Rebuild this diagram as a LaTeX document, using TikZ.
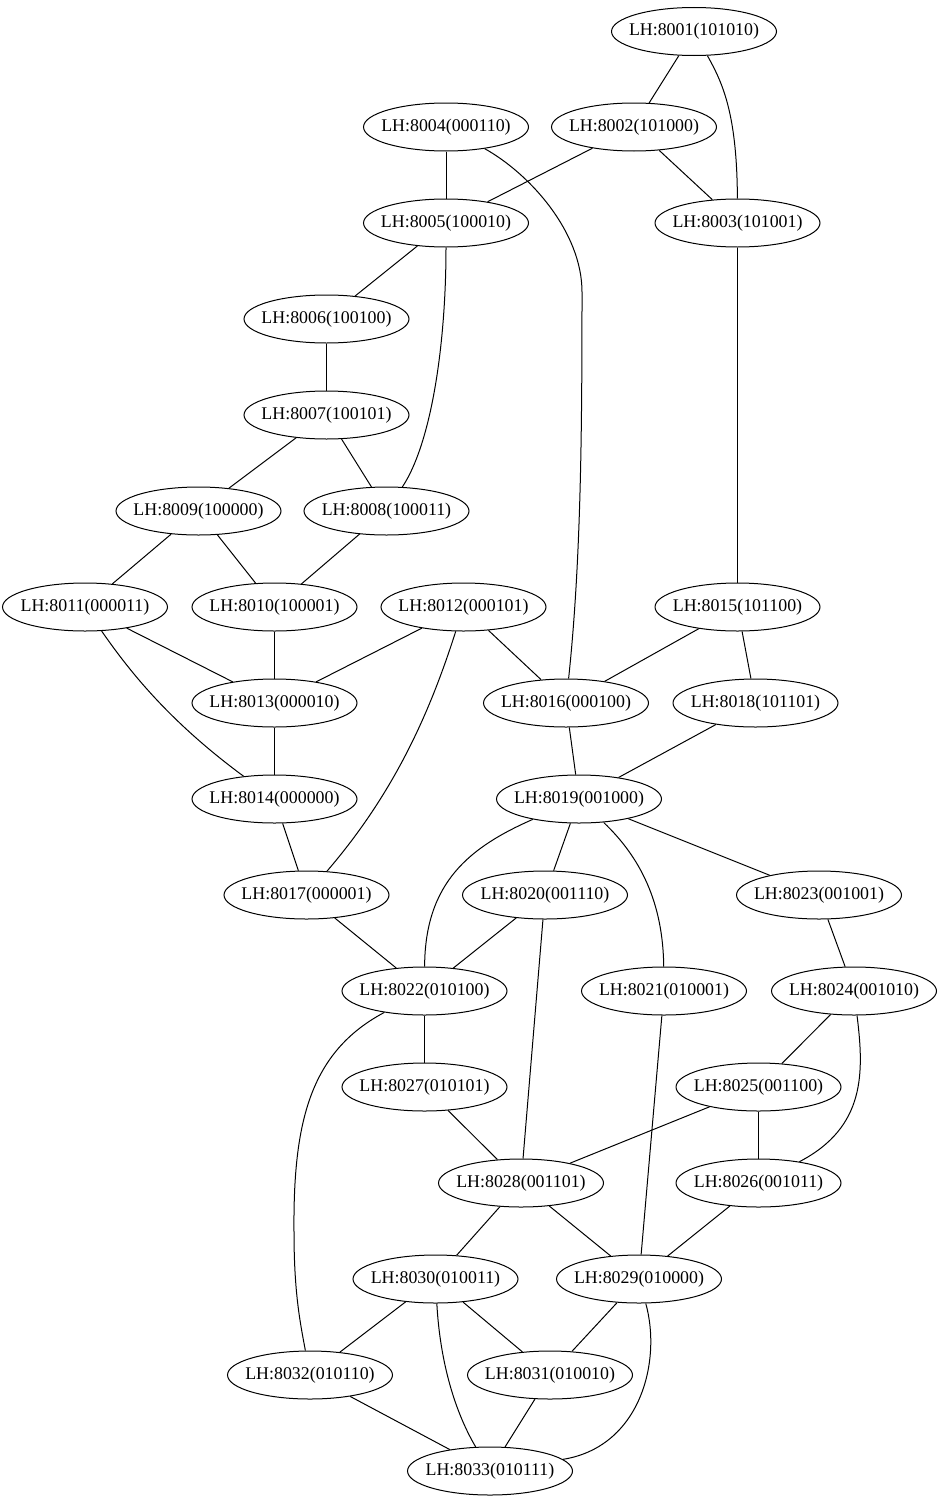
\documentclass[tikz,border=0pt]{standalone}
\usepackage{fontspec}
\setmainfont{Liberation Serif}
\usetikzlibrary{shapes.geometric}
\begin{document}
\begin{tikzpicture}[x=0.75pt,y=-0.75pt,
  gnode/.style={ellipse,draw,line width=0.75pt,minimum width=123.75pt,
    minimum height=36pt,inner sep=0pt,font=\fontsize{13.4}{16}\selectfont},
  link/.style={line width=0.75pt}]
\useasboundingbox (0,-2) rectangle (941,1497);
% label text is boxed at zero width so every ellipse keeps the same size
\newcommand\lhnode[4]{\node[gnode] (n#1) at (#3,#4) {\makebox[0pt]{LH:#1(#2)}};}
\lhnode{8001}{101010}{694}{29.5}
\lhnode{8002}{101000}{634}{125}
\lhnode{8004}{000110}{446}{125}
\lhnode{8005}{100010}{446}{221}
\lhnode{8003}{101001}{737.5}{221}
\lhnode{8006}{100100}{326.5}{317}
\lhnode{8007}{100101}{326.5}{413}
\lhnode{8009}{100000}{198.5}{509}
\lhnode{8008}{100011}{386.5}{509}
\lhnode{8011}{000011}{85}{605}
\lhnode{8010}{100001}{274.5}{605}
\lhnode{8012}{000101}{463.5}{605}
\lhnode{8015}{101100}{737.5}{605}
\lhnode{8013}{000010}{274.5}{701}
\lhnode{8016}{000100}{566}{701}
\lhnode{8018}{101101}{755.5}{701}
\lhnode{8014}{000000}{274.5}{797}
\lhnode{8019}{001000}{579}{797}
\lhnode{8017}{000001}{306.5}{893}
\lhnode{8020}{001110}{545}{893}
\lhnode{8023}{001001}{819}{893}
\lhnode{8022}{010100}{424.5}{989}
\lhnode{8021}{010001}{664}{989}
\lhnode{8024}{001010}{854}{989}
\lhnode{8027}{010101}{424.5}{1085}
\lhnode{8025}{001100}{758.5}{1085}
\lhnode{8028}{001101}{521}{1181}
\lhnode{8026}{001011}{758.5}{1181}
\lhnode{8030}{010011}{435.5}{1277}
\lhnode{8029}{010000}{639}{1277}
\lhnode{8032}{010110}{310}{1373}
\lhnode{8031}{010010}{550}{1373}
\lhnode{8033}{010111}{490}{1469}
% straight links
\foreach \a/\b in {8001/8002,8004/8005,8002/8005,8002/8003,8005/8006,
  8006/8007,8007/8009,8007/8008,8009/8011,8009/8010,8008/8010,8003/8015,
  8011/8013,8010/8013,8012/8013,8012/8016,8015/8016,8015/8018,8013/8014,
  8016/8019,8018/8019,8014/8017,8019/8020,8019/8023,8017/8022,8020/8022,
  8020/8028,8023/8024,8022/8027,8021/8029,8024/8025,8025/8028,8025/8026,
  8027/8028,8028/8030,8028/8029,8026/8029,8030/8032,8030/8031,8029/8031,
  8032/8033,8031/8033}
  \draw[link] (n\a) -- (n\b);
% curved links
\draw[link] (n8001) .. controls (722,80) and (737,110) .. (n8003);
\draw[link] (n8004) .. controls (530,172) and (582,230) .. (582,290)
  .. controls (582,430) and (581,560) .. (n8016);
\draw[link] (n8005) .. controls (446,340) and (432,440) .. (n8008);
\draw[link] (n8011) .. controls (130,670) and (170,720) .. (n8014);
\draw[link] (n8012) .. controls (430,710) and (395,790) .. (n8017);
\draw[link] (n8019) .. controls (470,845) and (425,880) .. (n8022);
\draw[link] (n8019) .. controls (640,855) and (663,900) .. (n8021);
\draw[link] (n8022) .. controls (310,1050) and (293,1120) .. (294,1230)
  .. controls (294,1290) and (300,1320) .. (n8032);
\draw[link] (n8024) .. controls (864,1070) and (866,1125) .. (n8026);
\draw[link] (n8030) .. controls (440,1360) and (455,1410) .. (n8033);
\draw[link] (n8029) .. controls (662,1360) and (640,1445) .. (n8033);
\end{tikzpicture}
\end{document}
